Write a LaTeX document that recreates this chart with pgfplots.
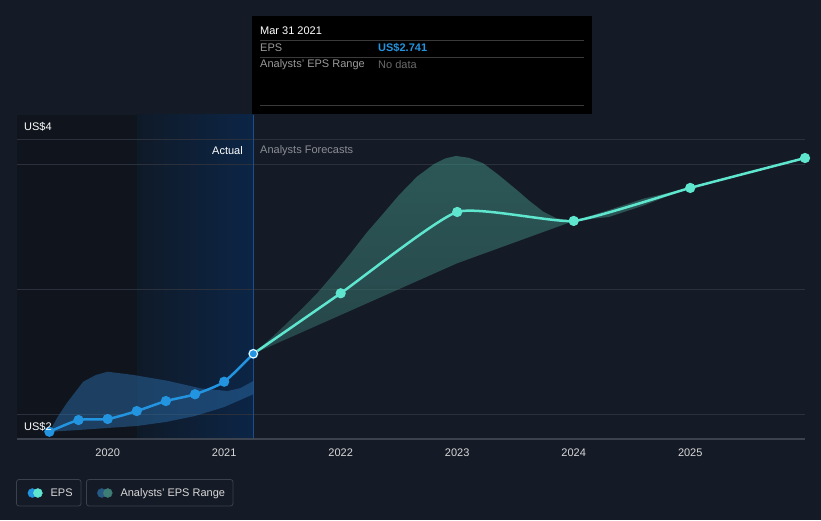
\documentclass[border=0pt]{standalone}
\usepackage{pgfplots}
\pgfplotsset{compat=1.18}
\usepackage{fontspec}
\setmainfont{Liberation Sans}
\definecolor{bg}{HTML}{151B26}
\definecolor{darkreg}{HTML}{10151D}
\definecolor{bluel}{HTML}{0F1A28}
\definecolor{bluer}{HTML}{0C2546}
\definecolor{vline}{HTML}{1E4C8C}
\definecolor{gridc}{HTML}{2B313C}
\definecolor{basec}{HTML}{3D434E}
\definecolor{epsblue}{HTML}{2394DF}
\definecolor{epsteal}{HTML}{5FE6CF}
\definecolor{histband}{HTML}{2A6AA5}
\definecolor{fctop}{HTML}{459589}
\definecolor{fcbot}{HTML}{37716E}
\definecolor{tipline}{HTML}{3A3A3A}
\definecolor{tipgray}{HTML}{9A9A9A}
\definecolor{tipdark}{HTML}{6A6A6A}
\definecolor{labc}{HTML}{D8D8D8}
\definecolor{fcgray}{HTML}{8A8D93}
\definecolor{legbox}{HTML}{3C424D}
\definecolor{legblue2}{HTML}{255983}
\definecolor{legteal2}{HTML}{3E7C76}
\newcommand{\fs}{\fontsize{11}{13}\selectfont}
\begin{document}
\begin{tikzpicture}[x=1pt,y=1pt]
\fill[bg] (0,0) rectangle (821,520);
% tooltip
\fill[black] (252,504) rectangle (592,406);
\node[anchor=west, inner sep=0, text=white, font=\fs] at (260,489) {Mar 31 2021};
\draw[tipline, line width=0.8pt] (260,480) -- (584,480);
\node[anchor=west, inner sep=0, text=tipgray, font=\fs] at (260,472) {EPS};
\node[anchor=west, inner sep=0, text=epsblue, font=\fs\bfseries] at (378,472) {US\$2.741};
\draw[tipline, line width=0.8pt] (260,463) -- (584,463);
\node[anchor=west, inner sep=0, text=tipgray, font=\fs] at (260,455) {Analysts' EPS Range};
\node[anchor=west, inner sep=0, text=tipdark, font=\fs] at (378,455) {No data};
\draw[tipline, line width=0.8pt] (260,415) -- (584,415);
% legend boxes
\draw[legbox, line width=0.8pt, rounded corners=2.5pt] (16.5,40.5) rectangle (81,14);
\draw[legbox, line width=0.8pt, rounded corners=2.5pt] (86.5,40.5) rectangle (233,14);
\begin{axis}[
  at={(17pt,81pt)}, anchor=south west,
  scale only axis, width=788pt, height=324pt,
  xmin=2019.222, xmax=2025.985, ymin=2, ymax=4.817,
  axis line style={draw=none},
  major tick style={draw=none},
  xtick={2020,2021,2022,2023,2024,2025},
  xticklabels={2020,2021,2022,2023,2024,2025},
  xticklabel style={text=labc, font=\fs, yshift=-6pt},
  ytick={2.217,3.304,4.391,4.609},
  yticklabels={},
  legend style={at={(axis description cs:0.0095,-0.1667)}, anchor=west,
    draw=none, fill=none, text=labc, font=\fs, legend columns=2,
    nodes={inner sep=0pt},
    column sep=8pt,
    /tikz/every even column/.append style={column sep=24.5pt}},
  legend cell align=left,
]
% background regions
\addplot[draw=none, fill=darkreg, forget plot]
  coordinates {(2019.222,2) (2020.25,2) (2020.25,4.817) (2019.222,4.817)} -- cycle;
\addplot[draw=none, left color=bluel, right color=bluer, forget plot]
  coordinates {(2020.25,2) (2021.25,2) (2021.25,4.817) (2020.25,4.817)} -- cycle;
% grid lines
\addplot[gridc, line width=0.8pt, forget plot] coordinates {(2019.222,2.217) (2025.985,2.217)};
\addplot[gridc, line width=0.8pt, forget plot] coordinates {(2019.222,3.304) (2025.985,3.304)};
\addplot[gridc, line width=0.8pt, forget plot] coordinates {(2019.222,4.391) (2025.985,4.391)};
\addplot[gridc, line width=0.8pt, forget plot] coordinates {(2019.222,4.609) (2025.985,4.609)};
\addplot[vline, line width=0.8pt, forget plot] coordinates {(2021.25,2) (2021.25,4.817)};
\addplot[basec, line width=1.2pt, forget plot] coordinates {(2019.222,2) (2025.985,2)};
% historical analyst range (upper edge then lower edge reversed)
\addplot[draw=none, fill=histband, fill opacity=0.5, forget plot] coordinates {
 (2019.5,2.063) (2019.57,2.19) (2019.65,2.313) (2019.79,2.498) (2019.9,2.557) (2020.0,2.585)
 (2020.22,2.557) (2020.51,2.507) (2020.8,2.44) (2021.03,2.417) (2021.14,2.443) (2021.25,2.504)
 (2021.25,2.389) (2021.0,2.278) (2020.75,2.2) (2020.5,2.148) (2020.25,2.113)
 (2020.0,2.096) (2019.75,2.078) (2019.5,2.063)} -- cycle;
% forecast analyst range
\addplot[draw=none, top color=fctop, bottom color=fcbot, fill opacity=0.5, forget plot] coordinates {
 (2021.25,2.741) (2021.4,2.875) (2021.506,2.975) (2021.65,3.115) (2021.796,3.265) (2021.94,3.435)
 (2022.082,3.61) (2022.22,3.79) (2022.368,3.963) (2022.5,4.12) (2022.655,4.281) (2022.8,4.39)
 (2022.9,4.44) (2022.99,4.461) (2023.1,4.445) (2023.223,4.397) (2023.35,4.30) (2023.512,4.165)
 (2023.62,4.07) (2023.738,3.977) (2023.85,3.92) (2024.0,3.896) (2024.3,3.99) (2024.6,4.09) (2024.9,4.16)
 (2024.9,4.15) (2024.6,4.03) (2024.3,3.93) (2024.0,3.896) (2023.0,3.528) (2022.0,3.078) (2021.25,2.741)} -- cycle;
% forecast EPS
\addplot[epsteal, line width=2.5pt, smooth, tension=0.3, mark=*, mark size=3.8pt,
  mark options={fill=epsteal, draw=none}, mark indices={2,3,4,5,6}, forget plot] coordinates {
 (2021.25,2.741) (2022.0,3.267) (2023.0,3.974) (2024.0,3.896) (2025.0,4.183) (2025.985,4.443)};
% actual EPS
\addplot[epsblue, line width=2.5pt, smooth, tension=0.4, mark=*, mark size=3.8pt,
  mark options={fill=epsblue, draw=none}, forget plot] coordinates {
 (2019.5,2.063) (2019.75,2.165) (2020.0,2.174) (2020.25,2.243) (2020.5,2.330)
 (2020.75,2.389) (2021.0,2.498) (2021.25,2.741)};
\addplot[only marks, mark=*, mark size=4.2pt, mark options={fill=epsblue, draw=white, line width=1pt}, forget plot]
  coordinates {(2021.25,2.741)};
% legend
\addlegendimage{legend image code/.code={\fill[epsblue] (0pt,0pt) circle (4.5pt); \fill[epsteal] (5.5pt,0pt) circle (4.5pt);}}
\addlegendentry{EPS}
\addlegendimage{legend image code/.code={\fill[legblue2] (0pt,0pt) circle (4.5pt); \fill[legteal2] (6pt,0pt) circle (4.5pt);}}
\addlegendentry{Analysts' EPS Range}
\end{axis}
% labels
\node[anchor=west, inner sep=0, text=white, font=\fs] at (24,393) {US\$4};
\node[anchor=west, inner sep=0, text=white, font=\fs] at (24,93) {US\$2};
\node[anchor=east, inner sep=0, text=white, font=\fs] at (243,369) {Actual};
\node[anchor=west, inner sep=0, text=fcgray, font=\fs] at (260,369) {Analysts Forecasts};
\end{tikzpicture}
\end{document}
